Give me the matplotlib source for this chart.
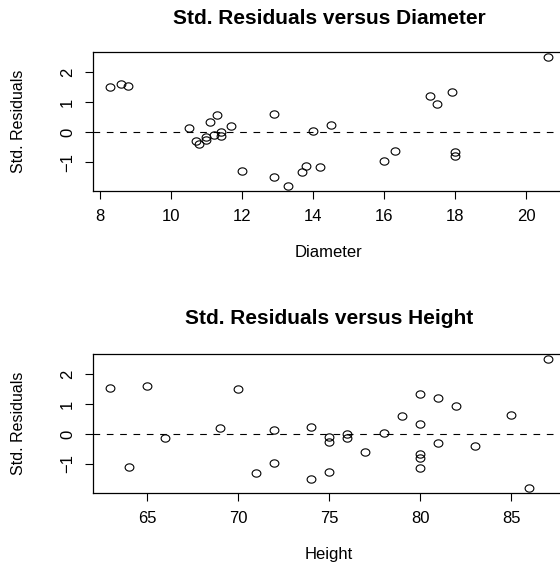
import numpy as np
import matplotlib
matplotlib.use("Agg")
import matplotlib.pyplot as plt
from matplotlib.path import Path

plt.rcParams['font.family'] = ['Liberation Sans', 'DejaVu Sans']

# trees data: diameter (girth), height, and standardized residuals
diameter = [8.3, 8.6, 8.8, 10.5, 10.7, 10.8, 11.0, 11.0, 11.1, 11.2, 11.3, 11.4, 11.4,
            11.7, 12.0, 12.9, 12.9, 13.3, 13.7, 13.8, 14.0, 14.2, 14.5, 16.0, 16.3,
            17.3, 17.5, 17.9, 18.0, 18.0, 20.6]
height = [70, 65, 63, 72, 81, 83, 66, 75, 80, 75, 79, 76, 76, 69, 75, 74, 85, 86, 71,
          64, 78, 80, 74, 72, 77, 81, 82, 80, 80, 80, 87]
std_resid = [1.50, 1.61, 1.54, 0.13, -0.29, -0.39, -0.15, -0.26, 0.33, -0.09, 0.59,
             0.00, -0.12, 0.21, -1.28, -1.49, 0.62, -1.79, -1.32, -1.11, 0.03, -1.15,
             0.23, -0.96, -0.61, 1.21, 0.94, 1.33, -0.67, -0.80, 2.50]

diam_ticks = [8, 10, 12, 14, 16, 18, 20]
height_ticks = [65, 70, 75, 80, 85]
resid_ticks = [-1, 0, 1, 2]

W, H = 560, 567
fig = plt.figure(figsize=(W / 100, H / 100), dpi=100)

# slightly wide open circle (the reference is stretched horizontally)
t = np.linspace(0, 2 * np.pi, 60)
ellipse = Path(np.column_stack([1.2 * np.cos(t), np.sin(t)]), closed=True)


def r_range(vals):
    lo, hi = min(vals), max(vals)
    pad = 0.04 * (hi - lo)
    return lo - pad, hi + pad


def panel(rect, x, xticks, xlabel, title, title_off):
    ax = fig.add_axes(rect)
    ax.plot(x, std_resid, linestyle='none', marker=ellipse, markersize=6.3,
            markerfacecolor='none', markeredgecolor='black', markeredgewidth=0.8)
    ax.axhline(0, color='black', linewidth=0.8, dashes=(6, 6))
    ax.set_xlim(*r_range(x))
    ax.set_ylim(*r_range(std_resid))
    ax.set_xticks(xticks)
    ax.set_yticks(resid_ticks)
    ax.set_yticklabels([str(v).replace('-', '\u2212') for v in resid_ticks],
                       rotation=90, va='center')
    ax.tick_params(direction='out', length=6, width=0.8, labelsize=12, pad=7)
    for s in ax.spines.values():
        s.set_linewidth(0.9)
    ax.set_xlabel(xlabel, fontsize=12, va='center')
    ax.xaxis.set_label_coords(0.5, -0.447)
    ax.set_ylabel('Std. Residuals', fontsize=11.5, va='center')
    ax.yaxis.set_label_coords(-0.158, 0.5)
    ax.set_title(title, fontsize=15, fontweight='bold', va='center', pad=0,
                 y=1 + title_off)
    return ax


ah = 138.7 / H
panel([93 / W, (H - 191) / H, 472 / W, ah], diameter, diam_ticks, 'Diameter',
      'Std. Residuals versus Diameter', 33.4 / 138.7)
panel([93 / W, (H - 492.7) / H, 472 / W, ah], height, height_ticks, 'Height',
      'Std. Residuals versus Height', 36 / 138.7)

fig.savefig('out.png', dpi=100)
